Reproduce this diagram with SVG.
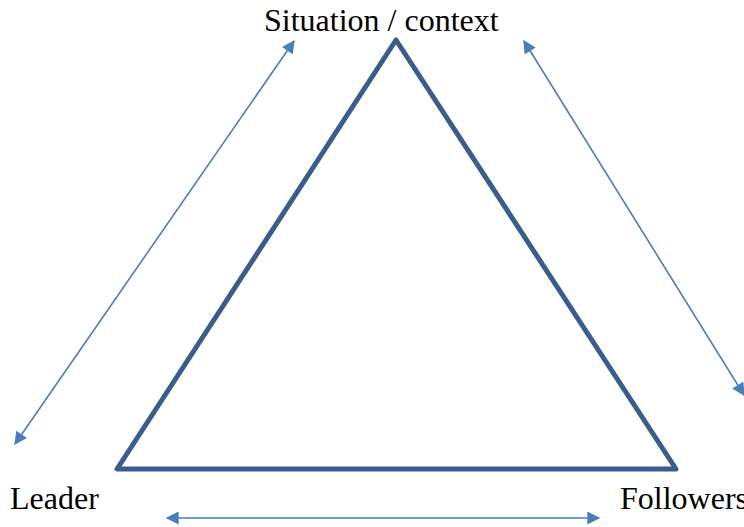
<svg xmlns="http://www.w3.org/2000/svg" width="744" height="527" viewBox="0 0 744 527">
  <style>
    .label { font-family: "Liberation Serif", "Times New Roman", serif; font-size: 32px; fill: #000; }
    .tri { fill: none; stroke: #3A5E8C; stroke-width: 5; stroke-linejoin: round; }
    .link { stroke: #4A7EBB; stroke-width: 1.6; fill: none; marker-start: url(#head); marker-end: url(#head); }
  </style>
  <defs>
    <!-- filled arrowhead shared by every double-headed connector -->
    <marker id="head" viewBox="0 0 10 10" refX="9" refY="5" markerWidth="14" markerHeight="13" markerUnits="userSpaceOnUse" orient="auto-start-reverse">
      <path d="M0,0 L10,5 L0,10 Z" fill="#4A7EBB"/>
    </marker>
  </defs>

  <g id="triangle">
    <polygon class="tri" points="396,40 117,469 676,469"/>
  </g>

  <g id="situation">
    <text class="label" x="264" y="31">Situation / context</text>
  </g>
  <g id="leader">
    <text class="label" x="10" y="509">Leader</text>
  </g>
  <g id="followers">
    <text class="label" x="620" y="509">Followers</text>
  </g>

  <g id="connectors">
    <line class="link" x1="15" y1="444" x2="294" y2="41"/>
    <line class="link" x1="524" y1="41" x2="744" y2="395"/>
    <line class="link" x1="167" y1="518" x2="599" y2="518"/>
  </g>
</svg>
